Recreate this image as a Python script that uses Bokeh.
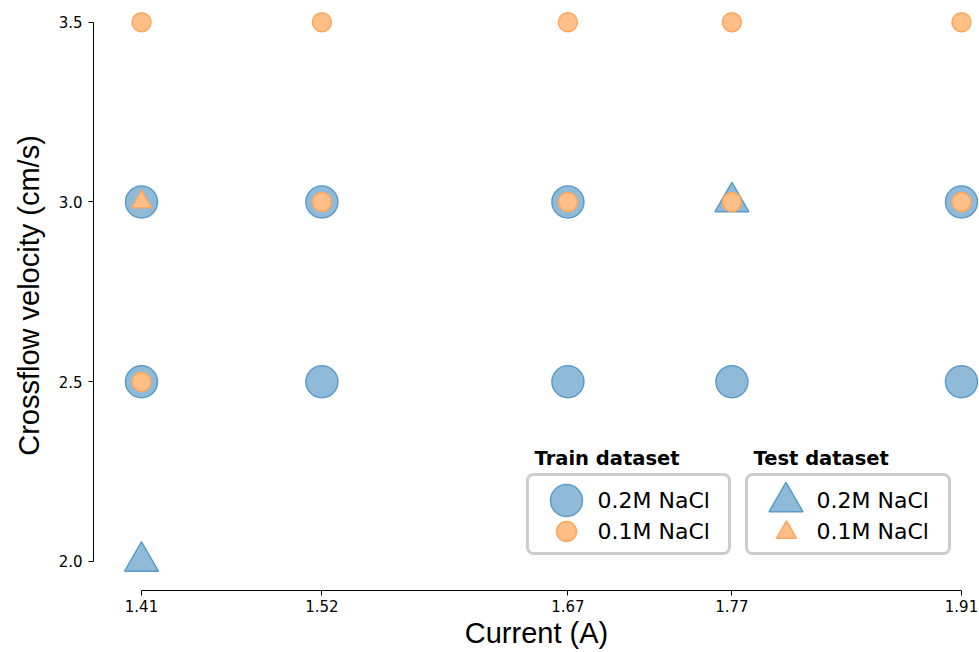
from bokeh.plotting import figure
from bokeh.models import (Range1d, FixedTicker, NumeralTickFormatter, Legend, LegendItem,
                          BoxAnnotation, Label)
from bokeh.core.properties import value
from bokeh.embed import file_html
from bokeh.resources import INLINE

# ---- data ----
current_ticks = [1.41, 1.52, 1.67, 1.77, 1.91]
velocity_ticks = [2.0, 2.5, 3.0, 3.5]

train_02_current = [1.41, 1.52, 1.67, 1.91, 1.41, 1.52, 1.67, 1.77, 1.91]
train_02_velocity = [3.0, 3.0, 3.0, 3.0, 2.5, 2.5, 2.5, 2.5, 2.5]

train_01_current = [1.41, 1.52, 1.67, 1.77, 1.91, 1.52, 1.67, 1.77, 1.91, 1.41]
train_01_velocity = [3.5, 3.5, 3.5, 3.5, 3.5, 3.0, 3.0, 3.0, 3.0, 2.5]

test_02_current = [1.41, 1.77]
test_02_velocity = [2.0, 3.0]

test_01_current = [1.41]
test_01_velocity = [3.0]

legend_groups = ["Train dataset", "Test dataset"]
legend_labels = ["0.2M NaCl", "0.1M NaCl"]

BLUE_FILL, BLUE_LINE = "#8fbbd9", "#5b9bc8"
ORANGE_FILL, ORANGE_LINE = "#ffbf86", "#ffa65c"
TICK_FONT = "DejaVu Sans"
LABEL_FONT = "Liberation Sans"

p = figure(width=979, height=652, output_backend="svg", toolbar_location=None,
           x_range=Range1d(1.38073, 1.920976), y_range=Range1d(1.91933, 3.56050),
           min_border_left=93, min_border_right=0, min_border_top=0, min_border_bottom=62,
           x_axis_label="Current (A)", y_axis_label="Crossflow velocity (cm/s)")
p.outline_line_color = None
p.grid.visible = False
p.background_fill_color = "white"
p.border_fill_color = "white"

for ax in (p.xaxis[0], p.yaxis[0]):
    ax.axis_line_color = "black"
    ax.axis_line_width = 1
    ax.major_tick_line_color = "black"
    ax.major_tick_in = 0
    ax.major_tick_out = 5
    ax.minor_tick_line_color = None
    ax.major_label_text_font = TICK_FONT
    ax.major_label_text_font_size = "15px"
    ax.major_label_text_color = "black"
    ax.axis_label_text_font = LABEL_FONT
    ax.axis_label_text_font_size = "29px"
    ax.axis_label_text_font_style = "normal"
    ax.axis_label_text_color = "black"

p.xaxis[0].ticker = FixedTicker(ticks=current_ticks)
p.xaxis[0].formatter = NumeralTickFormatter(format="0.00")
p.xaxis[0].bounds = (current_ticks[0], current_ticks[-1])
p.xaxis[0].major_label_standoff = 4
p.xaxis[0].axis_label_standoff = 2

p.yaxis[0].ticker = FixedTicker(ticks=velocity_ticks)
p.yaxis[0].formatter = NumeralTickFormatter(format="0.0")
p.yaxis[0].bounds = (velocity_ticks[0], velocity_ticks[-1])
p.yaxis[0].major_label_standoff = 6
p.yaxis[0].axis_label_standoff = 11

# glyphs
r_train02 = p.scatter(train_02_current, train_02_velocity, marker="circle", size=32,
                      fill_color=BLUE_FILL, line_color=BLUE_LINE, line_width=1.5)
r_test02 = p.scatter(test_02_current, test_02_velocity, marker="triangle", size=34,
                     fill_color=BLUE_FILL, line_color=BLUE_LINE, line_width=1.5)
r_train01 = p.scatter(train_01_current, train_01_velocity, marker="circle", size=19,
                      fill_color=ORANGE_FILL, line_color=ORANGE_LINE, line_width=1.5)
r_test01 = p.scatter(test_01_current, test_01_velocity, marker="triangle", size=20,
                     fill_color=ORANGE_FILL, line_color=ORANGE_LINE, line_width=1.5)

# legend boxes
for left, right in ((434, 636), (653, 856)):
    p.add_layout(BoxAnnotation(left=left, right=right, top=116, bottom=37,
                               left_units="screen", right_units="screen",
                               top_units="screen", bottom_units="screen",
                               fill_color="white", fill_alpha=0.8,
                               line_color="#cccccc", line_alpha=1.0, line_width=3,
                               border_radius=6))

def glyph_legend(renderer, glyph, loc):
    lg = Legend(items=[LegendItem(label=value(""), renderers=[renderer])],
                location=loc, glyph_width=glyph, glyph_height=glyph,
                label_standoff=0, label_width=0, padding=0, margin=0, spacing=0,
                background_fill_alpha=0, border_line_alpha=0,
                label_text_font=TICK_FONT, label_text_font_size="21px")
    p.add_layout(lg, "center")

glyph_legend(r_train02, 80, (433, 50))
glyph_legend(r_train01, 50, (448, 34))
glyph_legend(r_test02, 85, (650, 46))
glyph_legend(r_test01, 50, (668, 33))

for x, txt in ((441, legend_groups[0]), (660, legend_groups[1])):
    p.add_layout(Label(x=x, y=132, x_units="screen", y_units="screen", text=txt,
                       text_font=TICK_FONT, text_font_style="bold", text_font_size="19.5px",
                       text_baseline="middle", text_color="black"))

for x in (504, 723):
    for y, txt in ((90, legend_labels[0]), (59.5, legend_labels[1])):
        p.add_layout(Label(x=x, y=y, x_units="screen", y_units="screen", text=txt,
                           text_font=TICK_FONT, text_font_size="22px",
                           text_baseline="middle", text_color="black"))

open("out.html", "w").write(file_html(p, INLINE))
